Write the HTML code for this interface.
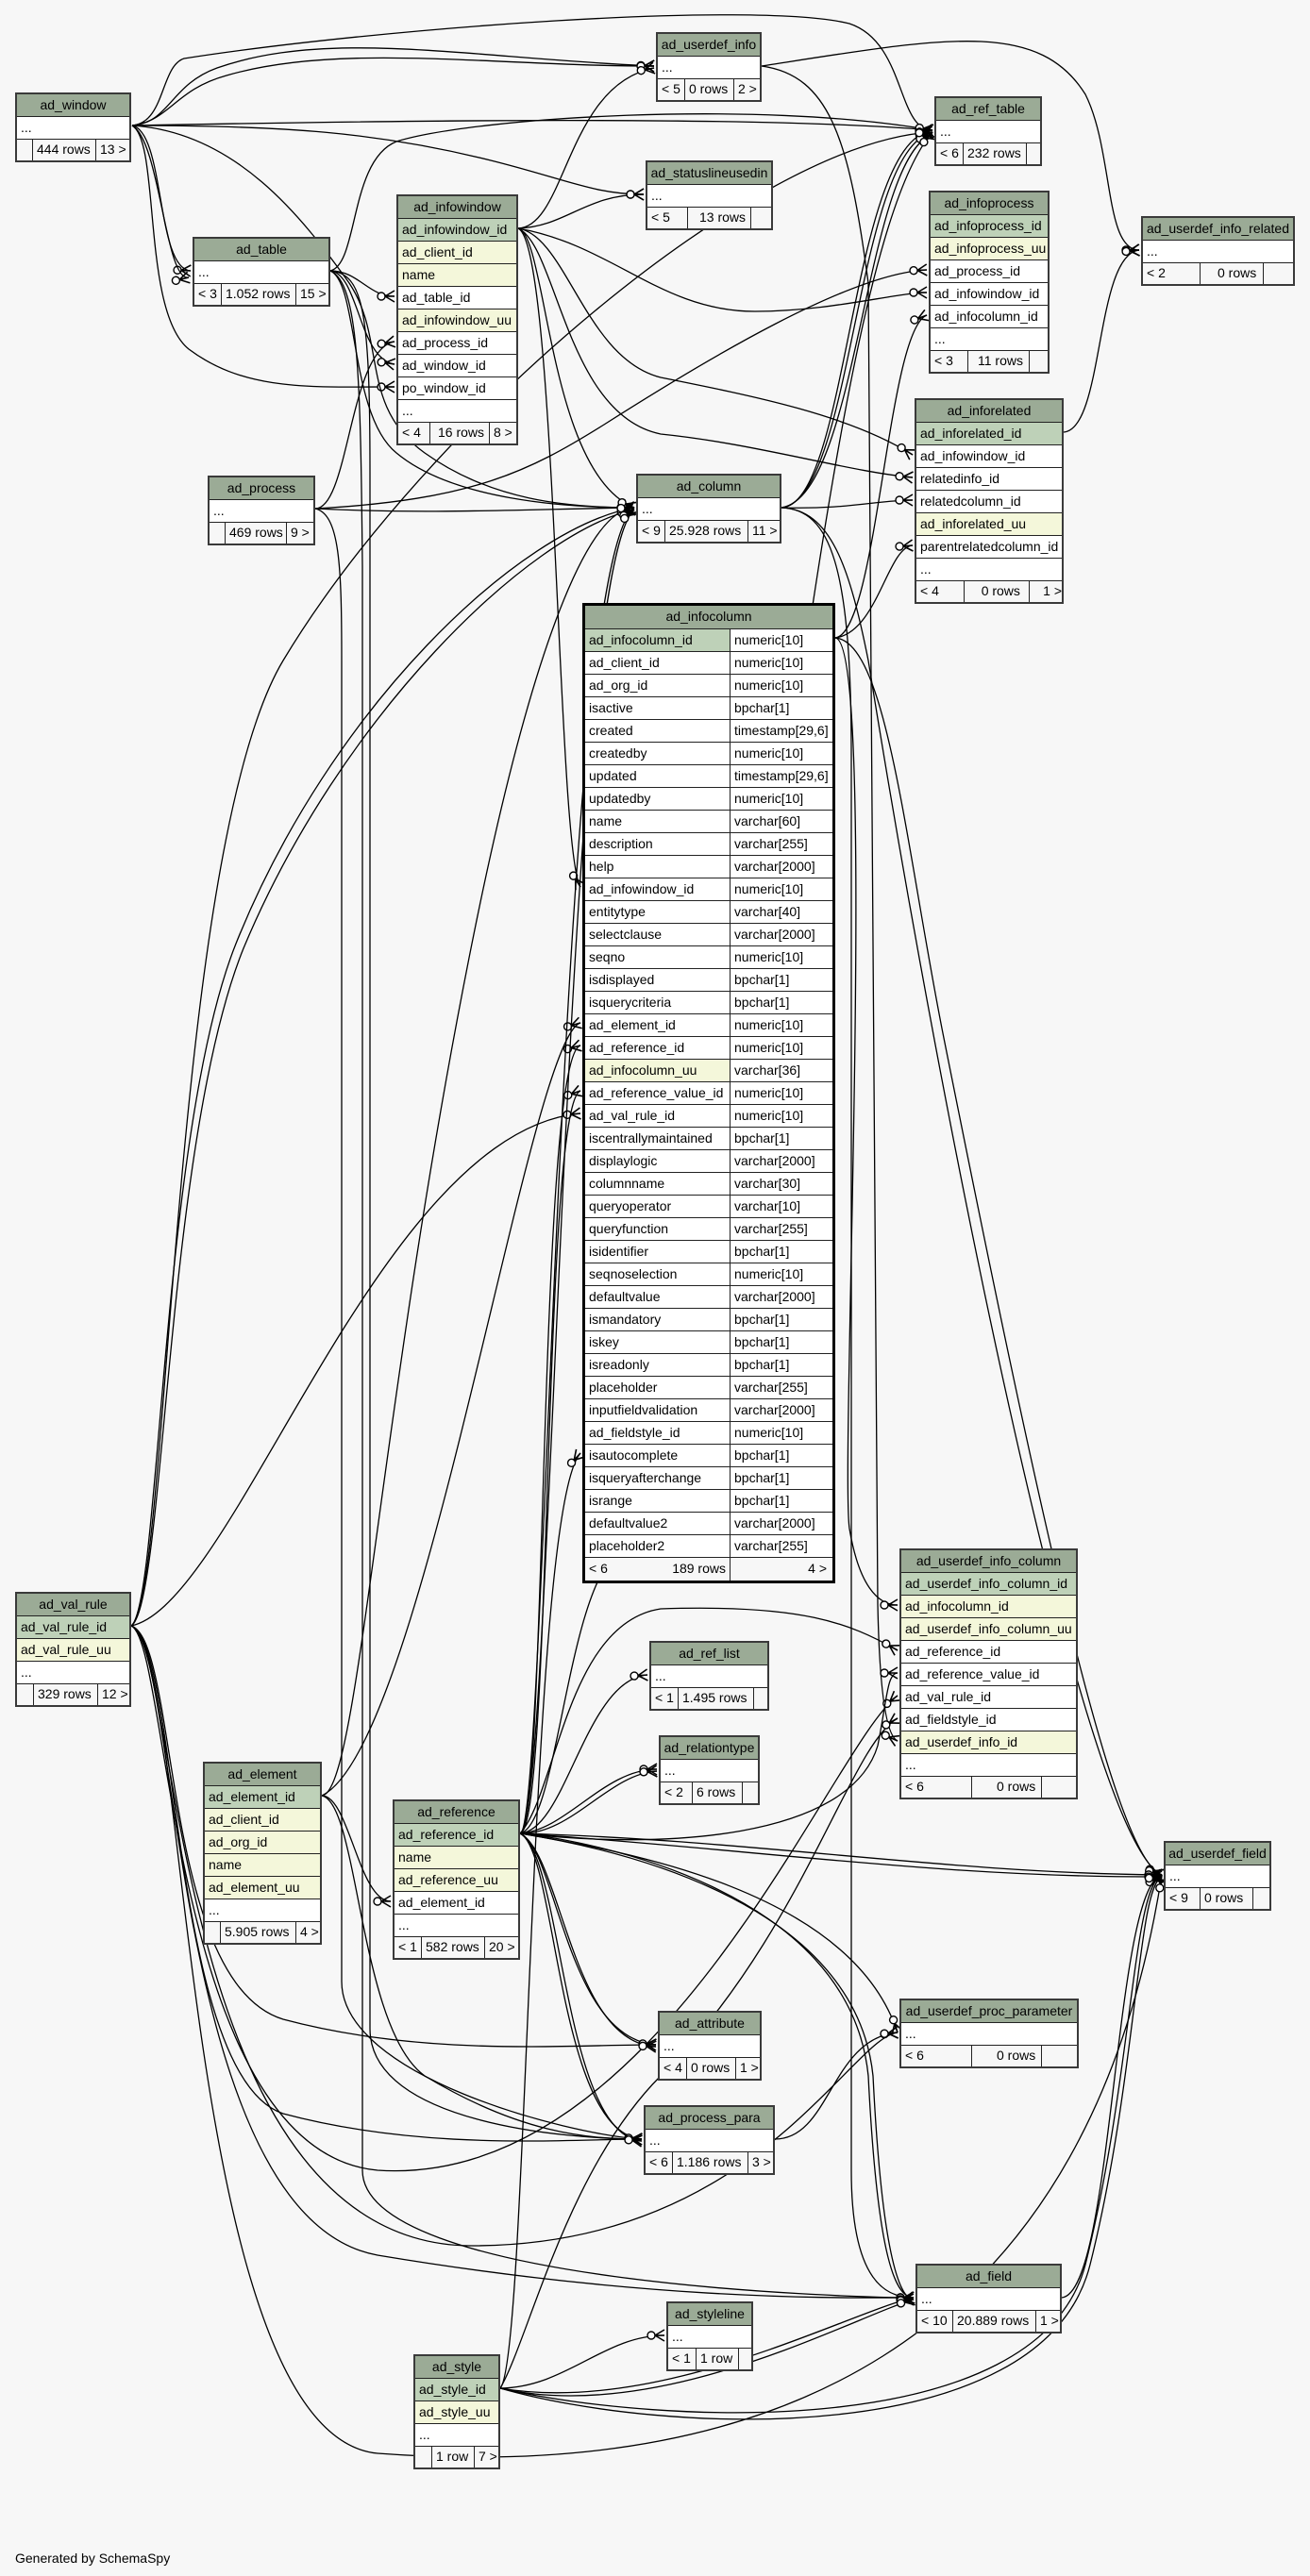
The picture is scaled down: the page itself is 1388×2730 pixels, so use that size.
<!DOCTYPE html>
<html><head><meta charset="utf-8">
<style>
html,body{margin:0;padding:0;background:#f7f7f7;}
body{width:1388px;height:2730px;position:relative;overflow:hidden;font-family:"Liberation Sans",Arial,sans-serif;}
svg{position:absolute;left:0;top:0;}
.t{position:absolute;border:2px solid #3a3a3a;background:#fff;box-sizing:border-box;font-size:14px;color:#000;z-index:2;}
.t div{box-sizing:border-box;height:24px;line-height:23px;border-bottom:1px solid #222;white-space:nowrap;overflow:hidden;padding-left:4px;}
.t .h{background:#9bab96;text-align:center;padding-left:0;}
.t .p{background:#bed1b8;}
.t .u{background:#f4f7da;}
.t .f{display:flex;padding:0;border-bottom:none;background:#f7f7f7;height:22px;}
.t .f span{display:block;border-right:1px solid #222;padding-left:4px;box-sizing:border-box;height:22px;line-height:21px;}
.t .f span:last-child{border-right:none;flex:1;}
.ic{border:3px solid #000;}
.ic div{display:flex;padding:0;}
.ic div span{display:block;padding-left:4px;box-sizing:border-box;}
.ic div span:first-child{width:154px;border-right:1px solid #222;}
.gen{position:absolute;left:16px;top:2703px;font-size:14px;}
</style></head><body>
<svg width="1388" height="2730" viewBox="0 0 1388 2730">
<defs>
<marker id="c" markerUnits="userSpaceOnUse" markerWidth="22" markerHeight="16" viewBox="-20 -8 22 16" refX="0" refY="0" orient="auto">
<path d="M-10,0 L0,-6 M-10,0 L0,6 M-10,0 L0,0" stroke="#000" stroke-width="1.6" fill="none"/>
<circle cx="-14" cy="0" r="4" fill="#fff" stroke="#000" stroke-width="1.4"/>
</marker>
</defs>
<g fill="none" stroke="#000" stroke-width="1.3" marker-end="url(#c)">
<!-- ad_window -->
<path d="M140,133 C175,130 170,70 195,62 C400,30 800,0 900,25 C960,45 950,138 988,138"/>
<path d="M140,133 C180,130 180,90 230,72 C350,30 500,62 693,70"/>
<path d="M140,133 C180,128 185,95 240,80 C360,45 520,70 693,70"/>
<path d="M140,133 C300,133 400,140 520,170 C600,190 630,206 682,206"/>
<path d="M140,133 C175,140 165,285 202,287"/>
<path d="M140,133 C170,150 175,300 200,294"/>
<path d="M140,133 C170,150 150,330 200,370 C260,415 330,410 418,410"/>
<path d="M140,133 C250,140 320,230 370,300 C410,360 380,430 450,480 C520,530 600,538 672,538"/>
<path d="M140,133 C400,128 800,122 988,138"/>
<!-- ad_table -->
<path d="M350,287 C380,287 390,314 418,314"/>
<path d="M350,287 C380,290 380,380 418,386"/>
<path d="M350,287 C380,300 370,440 420,480 C480,530 600,538 672,538"/>
<path d="M350,287 C380,280 370,170 420,150 C500,125 800,105 988,138"/>
<path d="M350,287 C385,290 392,330 392,500 L392,2150 C392,2250 600,2267 680,2267"/>
<path d="M350,287 C380,300 382,400 384,600 L384,2300 C384,2420 900,2435 968,2435"/>
<!-- ad_process -->
<path d="M334,539 C370,539 370,370 418,362"/>
<path d="M334,539 C450,545 550,540 672,538"/>
<path d="M334,539 C500,530 560,500 640,450 C750,380 900,290 982,286"/>
<path d="M334,539 C360,545 362,600 362,700 L362,2100 C362,2200 600,2262 680,2267"/>
<!-- ad_infowindow -->
<path d="M549,242 C600,240 600,90 693,72"/>
<path d="M549,242 C600,240 620,206 682,206"/>
<path d="M549,242 C650,260 700,330 800,330 C880,330 950,310 982,310"/>
<path d="M549,242 C600,250 620,380 700,400 C800,420 900,440 967,482"/>
<path d="M549,242 C590,260 600,440 700,460 C800,470 900,500 967,506"/>
<path d="M549,242 C590,260 590,900 615,940"/>
<path d="M549,242 C580,250 580,500 672,538"/>
<!-- ad_column -->
<path d="M828,538 C900,535 900,150 988,138"/>
<path d="M828,538 C905,530 905,160 988,140"/>
<path d="M828,538 C910,525 915,170 988,142"/>
<path d="M828,538 C900,540 930,530 967,530"/>
<path d="M828,538 C880,540 902,600 902,800 L902,2300 C902,2420 940,2435 968,2435"/>
<path d="M828,538 C880,540 900,600 920,700 C1000,1200 1150,1950 1231,1987"/>
<!-- ad_infocolumn -->
<path d="M885,676 C930,670 940,350 982,334"/>
<path d="M885,676 C930,670 940,580 967,578"/>
<path d="M885,676 C930,680 890,1550 900,1620 C910,1680 930,1701 951,1701"/>
<path d="M885,676 C940,680 960,900 1000,1100 C1100,1600 1180,1970 1231,1987"/>
<!-- userdef_info / inforelated -->
<path d="M807,70 C1000,40 1100,20 1150,100 C1180,160 1170,265 1207,265"/>
<path d="M807,70 C880,80 900,150 920,300 L930,1700 C932,1800 940,1840 951,1845"/>
<path d="M1127,458 C1170,455 1160,270 1207,265"/>
<!-- ad_val_rule -->
<path d="M139,1723 C170,1700 170,1200 250,1000 C350,750 550,560 672,538"/>
<path d="M139,1723 C175,1700 175,1210 258,1005 C360,760 560,565 672,540"/>
<path d="M139,1723 C180,1700 180,900 300,700 C450,450 800,150 988,140"/>
<path d="M139,1723 C250,1700 400,1200 615,1180"/>
<path d="M139,1723 C190,1740 170,2100 300,2140 C450,2180 600,2167 695,2167"/>
<path d="M139,1723 C190,1740 180,2200 300,2240 C450,2280 600,2267 680,2267"/>
<path d="M139,1723 C190,1740 180,2350 400,2390 C700,2440 900,2435 968,2435"/>
<path d="M139,1723 C200,1740 190,2580 400,2600 C800,2630 1150,2500 1231,1987"/>
<path d="M139,1723 C190,1740 180,2380 500,2380 C800,2380 900,2160 951,2154"/>
<path d="M139,1723 C180,1740 180,2280 400,2300 C700,2320 880,1850 951,1797"/>
<!-- ad_element -->
<path d="M341,1903 C450,1850 560,1100 615,1084"/>
<path d="M341,1903 C370,1903 380,2015 414,2015"/>
<path d="M341,1903 C380,1900 400,1500 500,1000 C560,700 620,540 672,538"/>
<path d="M341,1903 C380,1910 380,2150 450,2200 C550,2260 620,2267 680,2267"/>
<!-- ad_reference -->
<path d="M551,1943 C580,1940 570,1120 615,1108"/>
<path d="M551,1943 C585,1940 575,1170 615,1156"/>
<path d="M551,1943 C580,1940 590,600 672,538"/>
<path d="M551,1943 C586,1940 596,610 672,540"/>
<path d="M551,1943 C590,1935 600,1700 650,1650 C800,1500 850,300 988,140"/>
<path d="M551,1943 C600,1940 620,1780 686,1775"/>
<path d="M551,1943 C600,1940 640,1875 696,1875"/>
<path d="M551,1943 C605,1945 645,1880 696,1877"/>
<path d="M551,1943 C590,1900 600,1720 700,1705 C850,1700 900,1720 951,1749"/>
<path d="M551,1943 C700,1960 900,1950 930,1850 C940,1800 940,1773 951,1773"/>
<path d="M551,1943 C800,1950 1000,1985 1231,1987"/>
<path d="M551,1943 C800,1960 1000,1990 1231,1989"/>
<path d="M551,1943 C590,1960 600,2160 695,2167"/>
<path d="M551,1943 C595,1965 605,2165 695,2169"/>
<path d="M551,1943 C590,1960 590,2260 680,2267"/>
<path d="M551,1943 C596,1965 596,2262 680,2269"/>
<path d="M551,1943 C620,1950 900,2000 920,2200 C930,2400 950,2435 968,2435"/>
<path d="M551,1943 C625,1955 905,2005 925,2200 C935,2400 955,2437 968,2437"/>
<path d="M551,1943 C650,1960 900,2000 951,2154"/>
<!-- ad_style -->
<path d="M530,2531 C600,2530 640,2475 704,2475"/>
<path d="M530,2531 C700,2560 900,2450 968,2435"/>
<path d="M530,2531 C700,2570 905,2455 968,2437"/>
<path d="M530,2531 C560,2500 560,1600 615,1540"/>
<path d="M530,2531 C560,2480 600,2300 700,2200 C850,2050 900,1850 951,1821"/>
<path d="M530,2531 C700,2570 1100,2590 1150,2400 C1200,2200 1200,2000 1231,1987"/>
<path d="M530,2531 C700,2580 1105,2600 1155,2400 C1205,2200 1205,2000 1231,1989"/>
<!-- misc -->
<path d="M1125,2435 C1180,2430 1180,2000 1231,1987"/>
<path d="M821,2267 C880,2267 880,2160 951,2154"/>
</g>
</svg>

<div class="t" style="left:16px;top:98px;width:123px"><div class="h">ad_window</div><div>...</div><div class="f"><span style="width:17px"></span><span style="width:67px">444 rows</span><span>13 &gt;</span></div></div>

<div class="t" style="left:204px;top:251px;width:146px"><div class="h">ad_table</div><div>...</div><div class="f"><span style="width:29px">&lt; 3</span><span style="width:79px">1.052 rows</span><span>15 &gt;</span></div></div>

<div class="t" style="left:420px;top:206px;width:129px"><div class="h">ad_infowindow</div><div class="p">ad_infowindow_id</div><div class="u">ad_client_id</div><div class="u">name</div><div>ad_table_id</div><div class="u">ad_infowindow_uu</div><div>ad_process_id</div><div>ad_window_id</div><div>po_window_id</div><div>...</div><div class="f"><span style="width:34px">&lt; 4</span><span style="width:63px;padding-left:8px">16 rows</span><span>8 &gt;</span></div></div>

<div class="t" style="left:220px;top:504px;width:114px"><div class="h">ad_process</div><div>...</div><div class="f"><span style="width:17px"></span><span style="width:65px">469 rows</span><span>9 &gt;</span></div></div>

<div class="t" style="left:695px;top:34px;width:112px"><div class="h">ad_userdef_info</div><div>...</div><div class="f"><span style="width:29px">&lt; 5</span><span style="width:52px">0 rows</span><span>2 &gt;</span></div></div>

<div class="t" style="left:684px;top:170px;width:135px"><div class="h">ad_statuslineusedin</div><div>...</div><div class="f"><span style="width:43px">&lt; 5</span><span style="width:67px;padding-left:12px">13 rows</span><span></span></div></div>

<div class="t" style="left:990px;top:102px;width:114px"><div class="h">ad_ref_table</div><div>...</div><div class="f"><span style="width:29px">&lt; 6</span><span style="width:67px">232 rows</span><span></span></div></div>

<div class="t" style="left:984px;top:202px;width:128px"><div class="h">ad_infoprocess</div><div class="p">ad_infoprocess_id</div><div class="u">ad_infoprocess_uu</div><div>ad_process_id</div><div>ad_infowindow_id</div><div>ad_infocolumn_id</div><div>...</div><div class="f"><span style="width:40px">&lt; 3</span><span style="width:65px;padding-left:10px">11 rows</span><span></span></div></div>

<div class="t" style="left:1209px;top:229px;width:163px"><div class="h">ad_userdef_info_related</div><div>...</div><div class="f"><span style="width:61px">&lt; 2</span><span style="width:67px;padding-left:18px">0 rows</span><span></span></div></div>

<div class="t" style="left:969px;top:422px;width:158px"><div class="h">ad_inforelated</div><div class="p">ad_inforelated_id</div><div>ad_infowindow_id</div><div>relatedinfo_id</div><div>relatedcolumn_id</div><div class="u">ad_inforelated_uu</div><div>parentrelatedcolumn_id</div><div>...</div><div class="f"><span style="width:53px">&lt; 4</span><span style="width:72px;padding-left:18px">0 rows</span><span style="padding-left:14px">1 &gt;</span></div></div>

<div class="t" style="left:674px;top:502px;width:154px"><div class="h">ad_column</div><div>...</div><div class="f"><span style="width:29px">&lt; 9</span><span style="width:88px">25.928 rows</span><span>11 &gt;</span></div></div>

<div class="t ic" style="left:617px;top:639px;width:268px">
<div class="h" style="display:block;height:25px">ad_infocolumn</div>
<div><span class="p" style="background:#bed1b8">ad_infocolumn_id</span><span>numeric[10]</span></div>
<div><span>ad_client_id</span><span>numeric[10]</span></div>
<div><span>ad_org_id</span><span>numeric[10]</span></div>
<div><span>isactive</span><span>bpchar[1]</span></div>
<div><span>created</span><span>timestamp[29,6]</span></div>
<div><span>createdby</span><span>numeric[10]</span></div>
<div><span>updated</span><span>timestamp[29,6]</span></div>
<div><span>updatedby</span><span>numeric[10]</span></div>
<div><span>name</span><span>varchar[60]</span></div>
<div><span>description</span><span>varchar[255]</span></div>
<div><span>help</span><span>varchar[2000]</span></div>
<div><span>ad_infowindow_id</span><span>numeric[10]</span></div>
<div><span>entitytype</span><span>varchar[40]</span></div>
<div><span>selectclause</span><span>varchar[2000]</span></div>
<div><span>seqno</span><span>numeric[10]</span></div>
<div><span>isdisplayed</span><span>bpchar[1]</span></div>
<div><span>isquerycriteria</span><span>bpchar[1]</span></div>
<div><span>ad_element_id</span><span>numeric[10]</span></div>
<div><span>ad_reference_id</span><span>numeric[10]</span></div>
<div><span style="background:#f4f7da">ad_infocolumn_uu</span><span>varchar[36]</span></div>
<div><span>ad_reference_value_id</span><span>numeric[10]</span></div>
<div><span>ad_val_rule_id</span><span>numeric[10]</span></div>
<div><span>iscentrallymaintained</span><span>bpchar[1]</span></div>
<div><span>displaylogic</span><span>varchar[2000]</span></div>
<div><span>columnname</span><span>varchar[30]</span></div>
<div><span>queryoperator</span><span>varchar[10]</span></div>
<div><span>queryfunction</span><span>varchar[255]</span></div>
<div><span>isidentifier</span><span>bpchar[1]</span></div>
<div><span>seqnoselection</span><span>numeric[10]</span></div>
<div><span>defaultvalue</span><span>varchar[2000]</span></div>
<div><span>ismandatory</span><span>bpchar[1]</span></div>
<div><span>iskey</span><span>bpchar[1]</span></div>
<div><span>isreadonly</span><span>bpchar[1]</span></div>
<div><span>placeholder</span><span>varchar[255]</span></div>
<div><span>inputfieldvalidation</span><span>varchar[2000]</span></div>
<div><span>ad_fieldstyle_id</span><span>numeric[10]</span></div>
<div><span>isautocomplete</span><span>bpchar[1]</span></div>
<div><span>isqueryafterchange</span><span>bpchar[1]</span></div>
<div><span>isrange</span><span>bpchar[1]</span></div>
<div><span>defaultvalue2</span><span>varchar[2000]</span></div>
<div><span>placeholder2</span><span>varchar[255]</span></div>
<div style="border-bottom:none;background:#f7f7f7"><span style="display:flex;justify-content:space-between;padding-right:4px">&lt; 6<b style="font-weight:normal">189 rows</b></span><span style="text-align:right;padding-right:6px;flex:1">4 &gt;</span></div>
</div>

<div class="t" style="left:16px;top:1687px;width:123px"><div class="h">ad_val_rule</div><div class="p">ad_val_rule_id</div><div class="u">ad_val_rule_uu</div><div>...</div><div class="f"><span style="width:18px"></span><span style="width:68px">329 rows</span><span>12 &gt;</span></div></div>

<div class="t" style="left:215px;top:1867px;width:126px"><div class="h">ad_element</div><div class="p">ad_element_id</div><div class="u">ad_client_id</div><div class="u">ad_org_id</div><div class="u">name</div><div class="u">ad_element_uu</div><div>...</div><div class="f"><span style="width:17px"></span><span style="width:80px">5.905 rows</span><span>4 &gt;</span></div></div>

<div class="t" style="left:416px;top:1907px;width:135px"><div class="h">ad_reference</div><div class="p">ad_reference_id</div><div class="u">name</div><div class="u">ad_reference_uu</div><div>ad_element_id</div><div>...</div><div class="f"><span style="width:29px">&lt; 1</span><span style="width:67px">582 rows</span><span>20 &gt;</span></div></div>

<div class="t" style="left:953px;top:1641px;width:189px"><div class="h">ad_userdef_info_column</div><div class="p">ad_userdef_info_column_id</div><div class="u">ad_infocolumn_id</div><div class="u">ad_userdef_info_column_uu</div><div>ad_reference_id</div><div>ad_reference_value_id</div><div>ad_val_rule_id</div><div>ad_fieldstyle_id</div><div class="u">ad_userdef_info_id</div><div>...</div><div class="f"><span style="width:75px">&lt; 6</span><span style="width:74px;padding-left:26px">0 rows</span><span></span></div></div>

<div class="t" style="left:688px;top:1739px;width:127px"><div class="h">ad_ref_list</div><div>...</div><div class="f"><span style="width:29px">&lt; 1</span><span style="width:80px">1.495 rows</span><span></span></div></div>

<div class="t" style="left:698px;top:1839px;width:107px"><div class="h">ad_relationtype</div><div>...</div><div class="f"><span style="width:34px">&lt; 2</span><span style="width:53px">6 rows</span><span></span></div></div>

<div class="t" style="left:1233px;top:1951px;width:114px"><div class="h">ad_userdef_field</div><div>...</div><div class="f"><span style="width:37px">&lt; 9</span><span style="width:56px">0 rows</span><span></span></div></div>

<div class="t" style="left:953px;top:2118px;width:190px"><div class="h">ad_userdef_proc_parameter</div><div>...</div><div class="f"><span style="width:75px">&lt; 6</span><span style="width:74px;padding-left:26px">0 rows</span><span></span></div></div>

<div class="t" style="left:697px;top:2131px;width:110px"><div class="h">ad_attribute</div><div>...</div><div class="f"><span style="width:29px">&lt; 4</span><span style="width:52px">0 rows</span><span>1 &gt;</span></div></div>

<div class="t" style="left:682px;top:2231px;width:139px"><div class="h">ad_process_para</div><div>...</div><div class="f"><span style="width:29px">&lt; 6</span><span style="width:80px">1.186 rows</span><span>3 &gt;</span></div></div>

<div class="t" style="left:970px;top:2399px;width:155px"><div class="h">ad_field</div><div>...</div><div class="f"><span style="width:38px">&lt; 10</span><span style="width:88px">20.889 rows</span><span>1 &gt;</span></div></div>

<div class="t" style="left:706px;top:2439px;width:92px"><div class="h">ad_styleline</div><div>...</div><div class="f"><span style="width:30px">&lt; 1</span><span style="width:45px">1 row</span><span></span></div></div>

<div class="t" style="left:438px;top:2495px;width:92px"><div class="h">ad_style</div><div class="p">ad_style_id</div><div class="u">ad_style_uu</div><div>...</div><div class="f"><span style="width:18px"></span><span style="width:45px">1 row</span><span>7 &gt;</span></div></div>

<div class="gen">Generated by SchemaSpy</div>
</body></html>
